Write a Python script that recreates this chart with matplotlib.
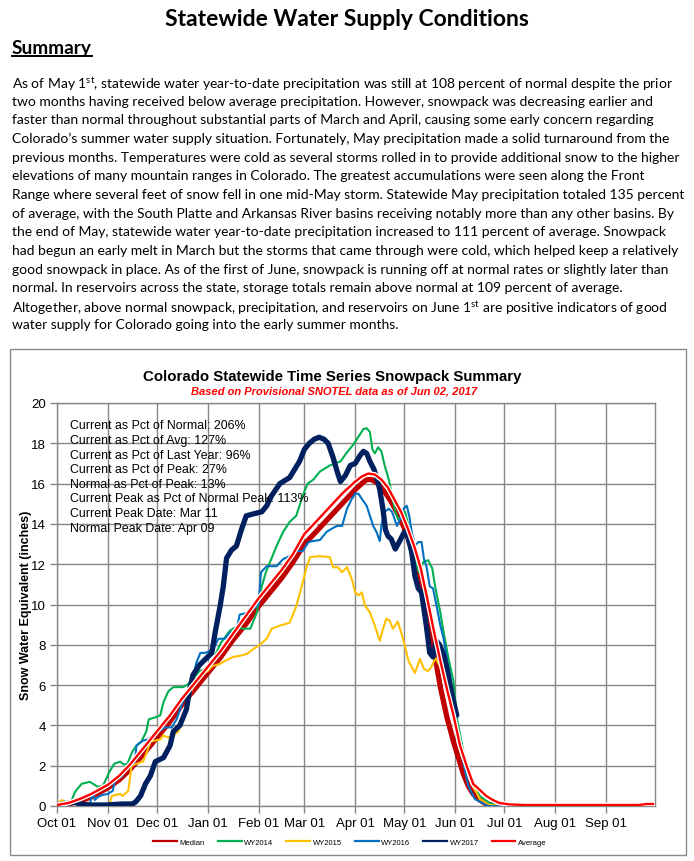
import numpy as np
import matplotlib
matplotlib.use("Agg")
import matplotlib.pyplot as plt
import matplotlib.dates as mdates
import matplotlib.patheffects as pe
from matplotlib.lines import Line2D
from matplotlib.patches import Rectangle

# ------------------------------------------------------------------ data
water_year_start = "2016-10-01"
month_ticks = ["2016-10-01", "2016-11-01", "2016-12-01", "2017-01-01", "2017-02-01",
               "2017-03-01", "2017-04-01", "2017-05-01", "2017-06-01", "2017-07-01",
               "2017-08-01", "2017-09-01"]
month_labels = ["Oct 01", "Nov 01", "Dec 01", "Jan 01", "Feb 01", "Mar 01",
                "Apr 01", "May 01", "Jun 01", "Jul 01", "Aug 01", "Sep 01"]
y_ticks = [0, 2, 4, 6, 8, 10, 12, 14, 16, 18, 20]

# days since Oct 01 / snow water equivalent (inches)
median_days = [0, 7, 14, 21, 31, 38, 45, 53, 61, 69, 76, 84, 92, 100, 107, 115, 123, 130,
               137, 144, 151, 158, 166, 174, 182, 186, 189, 192, 196, 200, 204, 208, 212,
               216, 219, 222, 225, 228, 231, 234, 238, 242, 245, 248, 251, 254, 258, 262,
               266, 270, 364]
median_swe = [0.0, 0.1, 0.25, 0.45, 0.9, 1.3, 1.85, 2.6, 3.4, 4.2, 5.0, 5.8, 6.6, 7.4, 8.2,
              9.0, 9.9, 10.6, 11.3, 12.1, 13.0, 13.6, 14.3, 15.0, 15.7, 16.0, 16.2, 16.2,
              16.0, 15.6, 15.1, 14.5, 13.8, 12.9, 12.2, 11.3, 10.1, 8.6, 7.3, 5.9, 4.4,
              3.2, 2.4, 1.6, 1.0, 0.6, 0.3, 0.1, 0.05, 0.0, 0.0]

average_days = [0, 7, 14, 21, 31, 38, 45, 53, 61, 69, 76, 84, 92, 100, 107, 115, 123, 130,
                137, 144, 151, 158, 166, 174, 182, 186, 190, 194, 198, 202, 206, 210, 214,
                218, 222, 226, 230, 234, 238, 242, 246, 250, 254, 258, 262, 266, 270, 276,
                285, 300, 330, 355, 360, 364]
average_swe = [0.05, 0.15, 0.35, 0.6, 1.05, 1.5, 2.1, 2.9, 3.7, 4.5, 5.3, 6.1, 6.9, 7.7,
               8.5, 9.4, 10.3, 11.0, 11.7, 12.5, 13.5, 14.1, 14.8, 15.5, 16.1, 16.35, 16.5,
               16.45, 16.2, 15.8, 15.2, 14.6, 13.8, 12.9, 11.8, 10.3, 8.7, 7.2, 5.8, 4.5,
               3.0, 2.0, 1.1, 0.8, 0.5, 0.3, 0.15, 0.08, 0.05, 0.05, 0.05, 0.05, 0.1, 0.1]

wy2014_days = [0, 4, 8, 11, 15, 20, 22, 25, 28, 30, 32, 35, 38.5, 41, 43, 46, 48.5, 51.5,
               54.5, 56, 60, 63, 65, 68, 71, 77, 80, 83, 87, 91, 95, 100, 105.5, 109.5,
               113.5, 118, 122, 125, 127.5, 131, 134, 138, 142, 146, 150, 153, 156.5,
               160.5, 166.5, 173, 177, 181, 183, 185, 187, 189, 191, 192.5, 194, 196, 198,
               200, 202.5, 204.5, 206.5, 208.5, 210.5, 212.5, 214.5, 217.5, 219.5, 221,
               223.5, 226.5, 229, 231, 234, 236, 239, 242, 244, 248, 252, 258, 264, 272, 364]
wy2014_swe = [0.0, 0.25, 0.1, 0.7, 1.1, 1.2, 1.1, 0.95, 1.0, 1.35, 1.7, 2.1, 2.2, 2.05, 2.1,
              2.7, 3.0, 3.2, 3.7, 4.3, 4.4, 4.5, 5.15, 5.7, 5.9, 5.9, 6.05, 6.3, 6.7, 6.8,
              7.2, 8.1, 8.7, 8.9, 8.8, 8.8, 9.6, 10.9, 11.6, 12.3, 12.9, 13.6, 14.1, 14.4,
              15.4, 16.0, 16.2, 16.6, 16.9, 17.1, 17.55, 17.95, 18.2, 18.45, 18.7, 18.75,
              18.55, 17.7, 17.5, 17.8, 17.6, 16.9, 16.2, 15.4, 14.6, 14.2, 14.4, 14.6, 13.9,
              13.25, 11.9, 11.6, 12.1, 12.2, 11.8, 10.8, 9.6, 8.6, 7.3, 6.2, 4.4, 2.7, 1.5,
              0.5, 0.15, 0.0, 0.0]

wy2015_days = [0, 3, 6, 32, 33.5, 38.5, 40, 43.5, 45.5, 48.5, 52.5, 55, 57, 60, 63, 65, 68,
               71, 74, 76, 78, 80, 83, 86, 89, 92, 95, 99.5, 102.5, 107.5, 111.5, 116, 120,
               123, 128, 131, 136, 142, 146, 149, 152.5, 154.5, 160, 166.5, 168.5, 171.5,
               174, 177, 180, 182, 184, 186, 188, 191, 194, 197, 199, 201, 203, 205, 208,
               210.5, 212.5, 214.5, 216.5, 218.5, 221.5, 224, 226.5, 228.5, 231, 234, 237,
               240, 243, 246, 250, 254, 258, 264, 364]
wy2015_swe = [0.1, 0.3, 0.1, 0.1, 0.5, 0.6, 0.5, 0.75, 2.0, 2.1, 2.2, 2.7, 3.2, 3.25, 3.3,
              3.5, 3.4, 3.5, 3.7, 4.1, 4.5, 5.3, 5.9, 6.2, 6.55, 6.7, 6.95, 7.05, 7.2, 7.4,
              7.45, 7.55, 7.8, 7.95, 8.3, 8.8, 8.95, 9.1, 9.9, 10.8, 11.9, 12.35, 12.4,
              12.35, 11.85, 11.85, 11.6, 11.85, 11.25, 10.6, 10.45, 10.6, 9.95, 9.6, 8.95,
              8.2, 8.8, 9.3, 9.2, 8.8, 9.15, 8.5, 7.9, 7.2, 6.9, 6.6, 7.3, 6.8, 6.7, 6.9,
              7.35, 6.9, 6.2, 5.2, 4.2, 3.2, 2.0, 1.0, 0.35, 0.05, 0.0]

wy2016_days = [0, 3, 20, 22, 23, 25, 28, 31, 34, 35.5, 39.5, 41.5, 44.5, 47.5, 48.5, 52.5,
               55.5, 60, 63, 66, 70, 73, 76, 79, 82, 85, 87.5, 90.5, 93.5, 95.5, 98.5,
               102.5, 105.5, 109.5, 111.5, 117, 120, 123, 124.5, 128, 134, 138, 142, 145,
               150, 153.5, 156.5, 160.5, 164.5, 168.5, 171, 174, 177, 180, 182, 184, 186,
               189, 191, 193, 195, 197, 198, 200, 202.5, 204.5, 207.5, 209.5, 211.5, 213.5,
               215, 216.5, 218.5, 220.5, 222.5, 224, 225.5, 227.5, 229.5, 232, 234, 236,
               238, 240, 242, 245, 247.5, 251, 255, 263, 364]
wy2016_swe = [0.0, 0.1, 0.1, 0.7, 0.3, 0.45, 0.55, 0.6, 0.75, 1.35, 1.45, 1.75, 2.0, 2.2,
              3.0, 3.25, 3.3, 3.6, 3.75, 3.9, 3.9, 4.3, 5.0, 5.65, 5.9, 7.1, 7.6, 7.6, 7.7,
              7.8, 8.3, 8.3, 8.6, 8.7, 9.5, 9.6, 9.8, 10.0, 11.6, 11.9, 11.9, 12.25, 12.4,
              12.65, 12.65, 13.1, 13.15, 13.2, 13.6, 13.8, 13.9, 13.9, 14.75, 15.25, 15.5,
              15.5, 15.25, 14.9, 14.4, 13.9, 13.6, 13.15, 13.9, 14.6, 14.75, 14.6, 13.9,
              14.25, 14.75, 14.9, 14.4, 13.6, 12.9, 13.1, 13.1, 12.25, 11.9, 10.9, 10.8,
              9.8, 8.95, 8.3, 7.3, 6.45, 5.0, 3.5, 2.4, 1.0, 0.35, 0.0, 0.0]

wy2017_days = [0, 5, 10, 14, 20, 30, 40, 46, 48, 51, 54, 57, 60, 65, 69, 71, 75, 79, 81, 83,
               87, 92, 94.5, 96.5, 99.5, 101.5, 103.5, 106.5, 109.5, 112.5, 115.5, 120, 125,
               128, 131, 136, 142, 148, 151, 154, 157, 160, 163, 165.5, 168.5, 171, 173,
               176, 179, 182, 185, 187, 189, 191, 193.5, 195.5, 197, 199, 200.5, 202, 204,
               206.5, 209.5, 212, 214, 216.5, 218.5, 220.5, 222.5, 225.5, 227.5, 229.5,
               231.5, 233.5, 236, 237.5, 239.5, 242, 244]
wy2017_swe = [0.05, 0.1, 0.2, 0.1, 0.05, 0.05, 0.1, 0.1, 0.2, 0.5, 1.1, 1.5, 2.2, 2.4, 3.0,
              3.7, 4.0, 4.8, 5.8, 6.5, 7.0, 7.4, 7.6, 8.6, 9.9, 10.9, 12.3, 12.7, 12.9,
              13.7, 14.4, 14.5, 14.6, 14.9, 15.4, 16.0, 16.3, 17.1, 17.7, 18.0, 18.2, 18.3,
              18.2, 18.0, 17.3, 16.6, 16.1, 16.4, 16.9, 17.0, 17.4, 17.6, 17.5, 17.1, 16.7,
              16.2, 15.7, 14.7, 13.7, 13.4, 13.25, 12.75, 13.2, 13.6, 13.4, 12.6, 11.4,
              10.8, 10.6, 8.9, 7.6, 7.4, 8.2, 8.0, 7.5, 7.0, 6.2, 5.2, 4.5]

stats_lines = ["Current as Pct of Normal: 206%",
               "Current as Pct of Avg: 127%",
               "Current as Pct of Last Year: 96%",
               "Current as Pct of Peak: 27%",
               "Normal as Pct of Peak: 13%",
               "Current Peak as Pct of Normal Peak: 113%",
               "Current Peak Date: Mar 11",
               "Normal Peak Date: Apr 09"]

page_title = "Statewide Water Supply Conditions"
section_title = "Summary"
paragraph_lines = [
    "As of May 1$^{\\mathrm{st}}$, statewide water year-to-date precipitation was still at 108 percent of normal despite the prior",
    "two months having received below average precipitation. However, snowpack was decreasing earlier and",
    "faster than normal throughout substantial parts of March and April, causing some early concern regarding",
    "Colorado\u2019s summer water supply situation. Fortunately, May precipitation made a solid turnaround from the",
    "previous months. Temperatures were cold as several storms rolled in to provide additional snow to the higher",
    "elevations of many mountain ranges in Colorado. The greatest accumulations were seen along the Front",
    "Range where several feet of snow fell in one mid-May storm. Statewide May precipitation totaled 135 percent",
    "of average, with the South Platte and Arkansas River basins receiving notably more than any other basins. By",
    "the end of May, statewide water year-to-date precipitation increased to 111 percent of average. Snowpack",
    "had begun an early melt in March but the storms that came through were cold, which helped keep a relatively",
    "good snowpack in place. As of the first of June, snowpack is running off at normal rates or slightly later than",
    "normal. In reservoirs across the state, storage totals remain above normal at 109 percent of average.",
    "Altogether, above normal snowpack, precipitation, and reservoirs on June 1$^{\\mathrm{st}}$ are positive indicators of good",
    "water supply for Colorado going into the early summer months.",
]
chart_title = "Colorado Statewide Time Series Snowpack Summary"
chart_subtitle = "Based on Provisional SNOTEL data as of Jun 02, 2017"
y_label = "Snow Water Equivalent (inches)"

# ------------------------------------------------------------------ style
plt.rcParams["mathtext.fontset"] = "custom"
plt.rcParams["mathtext.rm"] = "Lato"
plt.rcParams["mathtext.it"] = "Lato:italic"
plt.rcParams["mathtext.bf"] = "Lato:bold"

W, H = 694, 862
fig = plt.figure(figsize=(W / 100, H / 100), dpi=100)
fig.patch.set_facecolor("white")

def fx(px):
    return px / W

def fy(py):
    return 1 - py / H

DOC_FONT = "Lato"
CHART_FONT = "Liberation Sans"
GRID = "#878787"

# chart frame
fig.add_artist(Rectangle((fx(10), fy(856)), fx(686) - fx(10), fy(350) - fy(856),
                         transform=fig.transFigure, fill=False, edgecolor="#8a8a8a", lw=1.0))

ax = fig.add_axes([fx(57), fy(807), fx(655) - fx(57), fy(404) - fy(807)])

x0 = mdates.datestr2num(water_year_start)

def xs(days):
    return x0 + np.asarray(days, dtype=float)

series = [
    ("Median", median_days, median_swe, "#C00000", 3.8, None),
    ("WY2014", wy2014_days, wy2014_swe, "#00B050", 1.5, None),
    ("WY2015", wy2015_days, wy2015_swe, "#FFC000", 1.5, None),
    ("WY2016", wy2016_days, wy2016_swe, "#0070C0", 1.5, None),
    ("WY2017", wy2017_days, wy2017_swe, "#002060", 3.8, None),
    ("Average", average_days, average_swe, "#FF0000", 1.7,
     [pe.Stroke(linewidth=3.6, foreground="white"), pe.Normal()]),
]
handles = []
for name, d, v, c, lw, eff in series:
    ln, = ax.plot(xs(d), v, color=c, lw=lw, solid_joinstyle="round",
                  solid_capstyle="round", zorder=3)
    if eff:
        ln.set_path_effects(eff)
    handles.append(Line2D([0], [0], color=c, lw=1.6))

tick_pos = mdates.datestr2num(month_ticks)
ax.set_xlim(x0, x0 + 365)
ax.set_ylim(0, 20)
ax.set_xticks(tick_pos)
ax.set_xticklabels(month_labels, fontfamily=CHART_FONT, fontsize=9.5)
ax.set_yticks(y_ticks)
ax.set_yticklabels([str(t) for t in y_ticks], fontfamily=CHART_FONT, fontsize=9.5)
ax.tick_params(axis="both", direction="out", color=GRID, length=5, width=1, pad=3)
ax.grid(True, color=GRID, lw=1.0, zorder=0)
ax.set_axisbelow(True)
for s in ax.spines.values():
    s.set_color(GRID)
    s.set_linewidth(1.0)

# stats box text
stats_texts = []
for i, line in enumerate(stats_lines):
    t = fig.text(fx(70), fy(425 + i * 14.6), line, fontfamily=CHART_FONT, fontsize=9.5,
                 ha="left", va="center_baseline", zorder=5)
    stats_texts.append(t)

# legend
fig.legend(handles, [s[0] for s in series], loc="center", bbox_to_anchor=(fx(350), fy(843)),
           ncol=6, frameon=False, prop={"family": CHART_FONT, "size": 5.5},
           handlelength=3.1, handletextpad=0.35, columnspacing=1.7)

# texts
t_title = fig.text(fx(347), fy(17), page_title, fontfamily=DOC_FONT, fontweight="bold",
                   fontsize=15, ha="center", va="center_baseline")
t_sum = fig.text(fx(12), fy(47), section_title, fontfamily=DOC_FONT, fontweight="bold",
                 fontsize=13, ha="left", va="center_baseline")
para = []
for i, line in enumerate(paragraph_lines):
    t = fig.text(fx(12), fy(82 + i * 18.65), line, fontfamily=DOC_FONT, fontsize=10.5,
                 ha="left", va="center_baseline")
    para.append(t)

t_ct = fig.text(fx(332), fy(375), chart_title, fontfamily=CHART_FONT, fontweight="bold",
                fontsize=10, ha="center", va="center_baseline")
t_cs = fig.text(fx(334), fy(390), chart_subtitle, fontfamily=CHART_FONT, fontweight="bold",
                fontstyle="italic", color="#FF0000", fontsize=7, ha="center",
                va="center_baseline")
t_yl = fig.text(fx(26), fy(605), y_label, fontfamily=CHART_FONT, fontweight="bold",
                fontsize=8, rotation=90, ha="center", va="center")

# fit text widths to the reference
fig.canvas.draw()
r = fig.canvas.get_renderer()

def fit(t, target, horizontal=True):
    bb = t.get_window_extent(r)
    w = bb.width if horizontal else bb.height
    t.set_fontsize(t.get_fontsize() * target / w)

fit(t_title, 365)
fit(t_sum, 80)
fit(t_ct, 378)
fit(t_cs, 288)
fit(t_yl, 190, horizontal=False)
w_para = para[4].get_window_extent(r).width
sc = 668 / w_para
for t in para:
    t.set_fontsize(t.get_fontsize() * sc)
w_st = stats_texts[5].get_window_extent(r).width
sc2 = 238 / w_st
for t in stats_texts:
    t.set_fontsize(t.get_fontsize() * sc2)

fig.canvas.draw()
# align the left edges of all paragraph lines (mathtext lines carry extra padding)
ref_x0 = para[1].get_window_extent(r).x0
for t in para:
    dx = t.get_window_extent(r).x0 - ref_x0
    if abs(dx) > 0.5:
        px, py = t.get_position()
        t.set_position((px - dx / W, py))

bb = t_sum.get_window_extent(r)
fig.add_artist(Line2D([fx(bb.x0), fx(bb.x1)], [fy(57), fy(57)], transform=fig.transFigure,
                      color="black", lw=1.4))

fig.savefig("out.png", dpi=100, facecolor="white")
